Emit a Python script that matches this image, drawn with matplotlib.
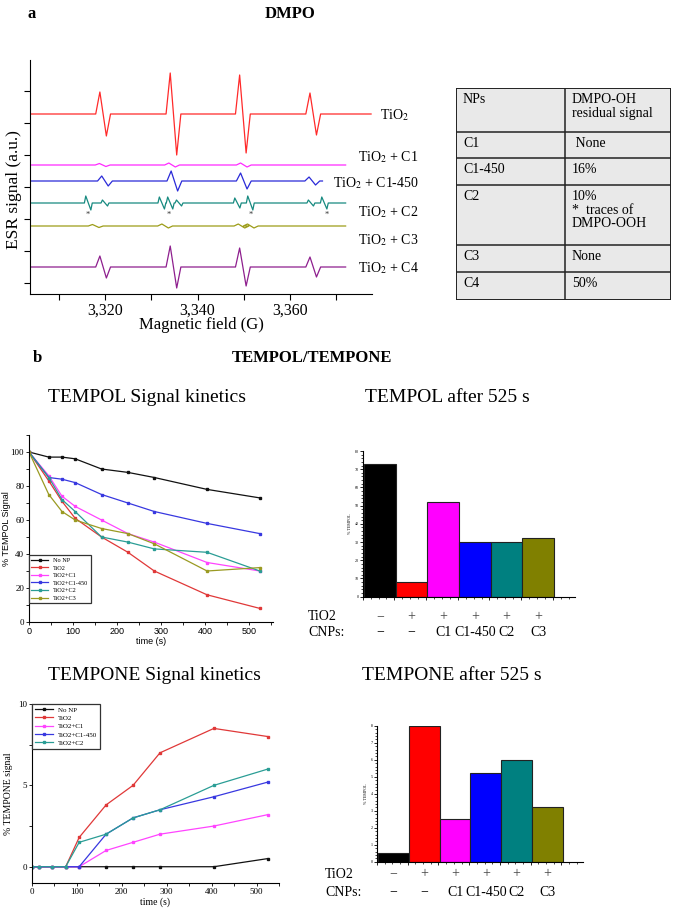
import matplotlib.pyplot as plt
from matplotlib.ticker import MultipleLocator, FuncFormatter
from matplotlib.transforms import blended_transform_factory

W, H = 675, 911
plt.rcParams['font.family'] = ['Liberation Serif', 'DejaVu Serif']
plt.rcParams['mathtext.fontset'] = 'stix'

# ---- data: panel a (ESR / DMPO) ----
esr_labels = ["TiO$_2$", "TiO$_2$ + C1", "TiO$_2$ + C1-450", "TiO$_2$ + C2", "TiO$_2$ + C3", "TiO$_2$ + C4"]
esr_colors = ["#ff2a2a", "#ff2aff", "#2a2ad8", "#178a80", "#9c9c18", "#8e1f8e"]
esr_offset = [180, 129, 113, 91, 68, 27]
esr_end = [3377.5, 3372.0, 3367.0, 3372.0, 3372.0, 3372.0]
esr_centers = [
    [3319.6, 3334.8, 3349.8, 3365.0],
    [3319.5, 3334.5, 3350.0],
    [3320.0, 3335.0, 3350.0, 3364.8],
    [3316.4, 3320.0, 3332.3, 3334.1, 3336.0, 3348.6, 3351.4, 3364.5, 3367.4],
    [3318.0, 3333.0, 3349.5, 3351.5],
    [3319.6, 3334.8, 3349.8, 3365.0],
]
esr_amps = [
    [22, 41, 39, 21],
    [1.5, 2, 2],
    [5, 10, 8, 4],
    [7, 3, 6, 6, 3, 5, 7, 3, 6],
    [1.5, 2, 2, 2],
    [11, 21, 19, 10],
]
ooh_marks = [3316.2, 3333.7, 3351.4, 3368.0]

table_rows = [
    ("NPs", "DMPO-OH\nresidual signal"),
    ("C1", " None"),
    ("C1-450", "16%"),
    ("C2", "10%\n*  traces of\nDMPO-OOH"),
    ("C3", "None"),
    ("C4", "50%"),
]
table_heights = [44, 26, 27, 60, 27, 28]

# ---- data: panel b (TEMPOL / TEMPONE) ----
series = ["No NP", "TiO2", "TiO2+C1", "TiO2+C1-450", "TiO2+C2", "TiO2+C3"]
line_colors = ["#111111", "#e03838", "#ff44ff", "#3838e0", "#2a9d95", "#9a9a22"]
bar_colors = ["#000000", "#ff0000", "#ff00ff", "#0000ff", "#008080", "#808000"]

tempol_t = [0, 45, 75, 105, 165, 225, 285, 405, 525]
tempol = [
    [100, 97, 97, 96, 90, 88, 85, 78, 73],
    [100, 83, 71, 61, 50, 41, 30, 16, 8],
    [100, 86, 74, 68, 60, 52, 47, 35, 30],
    [100, 85, 84, 82, 75, 70, 65, 58, 52],
    [100, 85, 72, 65, 50, 47, 43, 41, 30],
    [100, 75, 65, 60, 55, 52, 46, 30, 32],
]

tempone_t = [0, 15, 45, 75, 105, 165, 225, 285, 405, 525]
tempone = [
    [0, 0, 0, 0, 0, 0, 0, 0, 0, 0.5],
    [0, 0, 0, 0, 1.8, 3.8, 5.0, 7.0, 8.5, 8.0],
    [0, 0, 0, 0, 0, 1.0, 1.5, 2.0, 2.5, 3.2],
    [0, 0, 0, 0, 0, 2.0, 3.0, 3.5, 4.3, 5.2],
    [0, 0, 0, 0, 1.5, 2.0, 3.0, 3.5, 5.0, 6.0],
]

tempol_bars = [73, 8, 52, 30, 30, 32]
tempone_bars = [0.5, 8, 2.5, 5.2, 6, 3.2]
tio2_row = ["\u2212", "+", "+", "+", "+", "+"]
cnp_row = ["\u2212", "\u2212", "C1", "C1-450", "C2", "C3"]

fig = plt.figure(figsize=(W / 100, H / 100), dpi=100)


def box(x0, y0, x1, y1):
    return fig.add_axes([x0 / W, 1 - y1 / H, (x1 - x0) / W, (y1 - y0) / H])


def ftext(x, y, s, **kw):
    fig.text(x / W, 1 - y / H, s, **kw)


def clean(ax):
    ax.spines['top'].set_visible(False)
    ax.spines['right'].set_visible(False)


# ================= panel a =================
ftext(27, 14, "a", fontsize=12, fontweight='bold', va='center')
ftext(290, 14, "DMPO", fontsize=12, fontweight='bold', ha='center', va='center')

ax = box(30, 60, 372, 294)
clean(ax)
ax.set_xlim(3303.8, 3377.7)
ax.set_ylim(0, 234)
for lab, col, off, xe, cs, am in zip(esr_labels, esr_colors, esr_offset, esr_end, esr_centers, esr_amps):
    w = 0.55 if len(cs) > 5 else 0.7
    tail = 0.85 if len(cs) > 5 else 1.6
    xs, ys = [3304.0], [off]
    for c, a in zip(cs, am):
        xs += [c - tail, c - w, c + w, c + tail]
        ys += [off, off + a, off - a, off]
    xs.append(xe)
    ys.append(off)
    ax.plot(xs, ys, color=col, lw=0.9)
for m in ooh_marks:
    ax.text(m, esr_offset[3] - 12, "*", fontsize=6, ha='center', va='center', color='#333333')

label_pos = [(380, 115), (358, 157), (333, 183), (358, 212), (358, 240), (358, 268)]
for lab, (x, y) in zip(esr_labels, label_pos):
    ftext(x, y, lab, fontsize=10, va='center')

ax.xaxis.set_major_locator(MultipleLocator(20))
ax.xaxis.set_minor_locator(MultipleLocator(10))
ax.xaxis.set_major_formatter(FuncFormatter(lambda v, p: f"{int(v):,}"))
ax.set_yticks([11, 75, 139, 203])
ax.set_yticks([43, 107, 171], minor=True)
ax.set_yticklabels([])
ax.tick_params(which='both', direction='out', length=4, width=0.8)
ax.tick_params(axis='x', labelsize=11.5, pad=2)
ax.set_xlabel("Magnetic field (G)", fontsize=12, labelpad=-1)
ax.set_ylabel("ESR signal (a.u.)", fontsize=12.5)
ax.yaxis.set_label_coords(-0.023, 0.445)
for s in ax.spines.values():
    s.set_linewidth(0.8)

# table
tx = box(456, 88, 671, 300)
tx.set_xlim(0, 215)
tx.set_ylim(212, 0)
tx.axis('off')
tx.add_patch(plt.Rectangle((0, 0), 215, 212, facecolor='#e9e9e9', edgecolor='#222222', lw=1.4))
y = 0
for (c1, c2), h in zip(table_rows, table_heights):
    tx.text(7, y + 5, c1, fontsize=10, va='top')
    tx.text(116, y + 5, c2, fontsize=10, va='top', linespacing=1.05)
    y += h
    if y < 212:
        tx.plot([0, 215], [y, y], color='#222222', lw=1.1)
tx.plot([109, 109], [0, 212], color='#222222', lw=1.1)

# ================= panel b =================
ftext(33, 358, "b", fontsize=12, fontweight='bold', va='center')
ftext(312, 358, "TEMPOL/TEMPONE", fontsize=12, fontweight='bold', ha='center', va='center')
ftext(147, 398, "TEMPOL Signal kinetics", fontsize=14, ha='center', va='center')
ftext(447, 398, "TEMPOL after 525 s", fontsize=14, ha='center', va='center')
ftext(154, 675, "TEMPONE Signal kinetics", fontsize=14, ha='center', va='center')
ftext(452, 675, "TEMPONE after 525 s", fontsize=14, ha='center', va='center')

# TEMPOL kinetics
k1 = box(29, 435, 273, 622)
clean(k1)
for name, col, vals in zip(series, line_colors, tempol):
    k1.plot(tempol_t, vals, color=col, lw=0.9, marker='s', ms=1.8, label=name)
k1.set_xlim(0, 555)
k1.set_ylim(0, 110)
k1.xaxis.set_major_locator(MultipleLocator(100))
k1.xaxis.set_minor_locator(MultipleLocator(50))
k1.yaxis.set_major_locator(MultipleLocator(20))
k1.yaxis.set_minor_locator(MultipleLocator(10))
k1.tick_params(which='both', direction='out', length=2.5, width=0.6, labelsize=6.5, pad=1)
for t in k1.get_xticklabels():
    t.set_family('Liberation Sans')
k1.set_xlabel("time (s)", fontsize=6.5, family='Liberation Sans', labelpad=1)
k1.set_ylabel("% TEMPOL Signal", fontsize=6.5, family='Liberation Sans')
k1.yaxis.set_label_coords(-0.075, 0.5)
for s in k1.spines.values():
    s.set_linewidth(0.8)
lg = k1.legend(loc='lower left', bbox_to_anchor=(0.0, 0.1), fontsize=4.5, handlelength=2.6,
               labelspacing=0.35, borderpad=0.4, fancybox=False, framealpha=1, borderaxespad=0)
lg.get_frame().set_edgecolor('#333333')
lg.get_frame().set_linewidth(0.9)

# TEMPONE kinetics
k2 = box(32, 704, 279, 883)
clean(k2)
for name, col, vals in zip(series, line_colors, tempone):
    k2.plot(tempone_t, vals, color=col, lw=0.9, marker='s', ms=1.8, label=name)
k2.set_xlim(0, 550)
k2.set_ylim(-1, 10)
k2.set_yticks([0, 5, 10])
k2.set_yticks([2.5, 7.5], minor=True)
k2.xaxis.set_major_locator(MultipleLocator(100))
k2.xaxis.set_minor_locator(MultipleLocator(50))
k2.tick_params(which='both', direction='out', length=2.5, width=0.6, labelsize=6.5, pad=1)
k2.set_xlabel("time (s)", fontsize=7, labelpad=1)
k2.set_ylabel("% TEMPONE signal", fontsize=7)
k2.yaxis.set_label_coords(-0.075, 0.5)
for s in k2.spines.values():
    s.set_linewidth(0.8)
lg = k2.legend(loc='upper left', bbox_to_anchor=(0.0, 1.0), fontsize=5, handlelength=2.6,
               labelspacing=0.35, borderpad=0.4, fancybox=False, framealpha=1, borderaxespad=0)
lg.get_frame().set_edgecolor('#333333')
lg.get_frame().set_linewidth(0.9)


def bar_panel(rect, vals, ymax, ystep, ylab, row_y):
    b = box(*rect)
    clean(b)
    xc = [0.54 + i for i in range(len(vals))]
    b.bar(xc, vals, width=1.0, color=bar_colors, edgecolor='#222222', linewidth=0.8)
    b.set_xlim(0, 6.7)
    b.set_ylim(0, ymax)
    b.yaxis.set_major_locator(MultipleLocator(ystep))
    b.yaxis.set_minor_locator(MultipleLocator(ystep / 5))
    b.xaxis.set_major_locator(MultipleLocator(1))
    b.xaxis.set_minor_locator(MultipleLocator(0.25))
    b.set_xticklabels([])
    b.tick_params(which='major', direction='out', length=2, width=0.6, labelsize=3, pad=1)
    b.tick_params(which='minor', direction='out', length=1.2, width=0.5)
    b.set_ylabel(ylab, fontsize=3, labelpad=2)
    for s in b.spines.values():
        s.set_linewidth(0.8)
    tr = blended_transform_factory(b.transData, b.transAxes)
    for x, s1, s2 in zip(xc, tio2_row, cnp_row):
        b.text(x, row_y[0], s1, transform=tr, ha='center', va='center', fontsize=10, color='#444444')
        b.text(x, row_y[1], s2, transform=tr, ha='center', va='center', fontsize=10)
    return b


bar_panel((362.7, 451, 575, 596.7), tempol_bars, 80, 10, "% TEMPOL", (-0.139, -0.243))
ftext(308, 617, "TiO2", fontsize=10, va='center')
ftext(308, 632, "CNPs:", fontsize=10, va='center')

bar_panel((377, 725.7, 583, 861.7), tempone_bars, 8, 1, "% TEMPOL", (-0.09, -0.223))
ftext(325, 874, "TiO2", fontsize=10, va='center')
ftext(325, 892, "CNPs:", fontsize=10, va='center')

fig.savefig("out.png", dpi=100)
